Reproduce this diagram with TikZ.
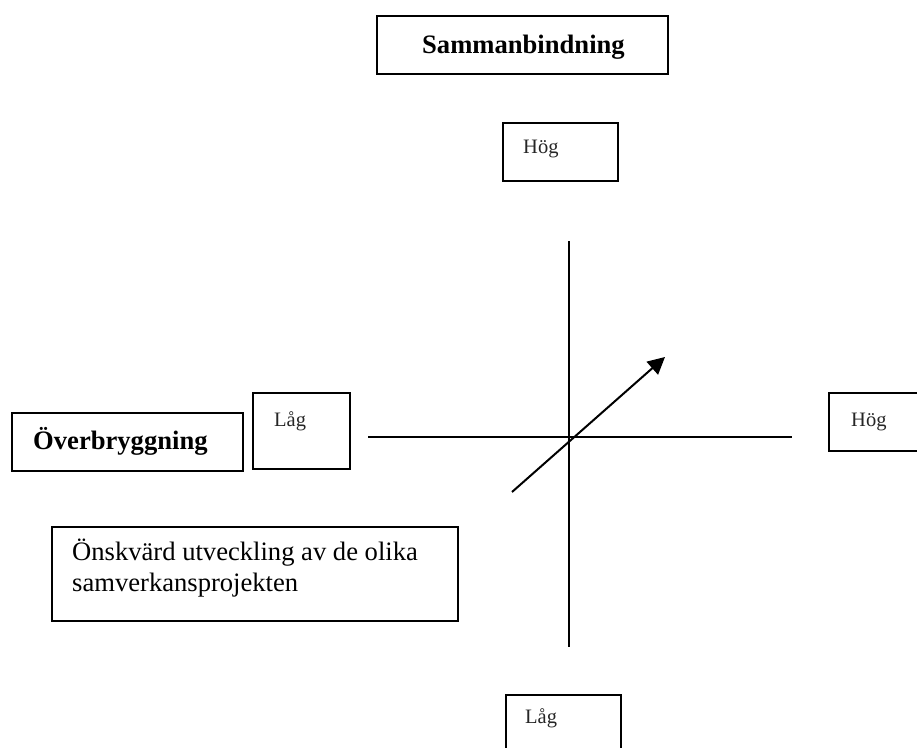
\documentclass[tikz,border=0pt]{standalone}
\usepackage{fontspec}
\setmainfont{Liberation Serif}
\usetikzlibrary{arrows.meta}
\tikzset{
  box/.style={draw, line width=1.6pt, rectangle, inner sep=0pt},
  bigtxt/.style={font=\fontsize{26.6}{30.6}\selectfont, inner sep=0pt, anchor=base west},
  boldtxt/.style={font=\fontsize{26.6}{30.6}\selectfont\bfseries, inner sep=0pt, anchor=base west},
  smalltxt/.style={font=\fontsize{20.5}{24}\selectfont, inner sep=0pt, anchor=base west, text=black!85},
  axis/.style={line width=2pt},
  haxis/.style={line width=2.8pt},
  dev/.style={line width=2pt, -{Triangle[length=17pt,width=17pt]}}
}
\begin{document}
\begin{tikzpicture}[x=1pt,y=-1pt]
\useasboundingbox (0,0) rectangle (917,747);
\clip (0,0) rectangle (917,747);
% boxes
\node[box, minimum width=291pt, minimum height=58pt] (samb) at (522.5,45) {};
\node[boldtxt] (sambt) at (422,53) {Sammanbindning};
\node[box, minimum width=115pt, minimum height=58pt] (hogtop) at (560.5,152) {};
\node[smalltxt] (hogtopt) at (523,153) {Hög};
\node[box, minimum width=231pt, minimum height=58pt] (overb) at (127.5,442) {};
\node[boldtxt] (overbt) at (33,449) {Överbryggning};
\node[box, minimum width=97pt, minimum height=76pt] (lagl) at (301.5,431) {};
\node[smalltxt] (laglt) at (274,426) {Låg};
\node[box, minimum width=120pt, minimum height=58pt] (hogr) at (889,422) {};
\node[smalltxt] (hogrt) at (851,426) {Hög};
\node[box, minimum width=406pt, minimum height=94pt] (onsk) at (255,574) {};
\node[bigtxt] (onskt1) at (72,560) {Önskvärd utveckling av de olika};
\node[bigtxt] (onskt2) at (72,591) {samverkansprojekten};
\node[box, minimum width=115pt, minimum height=70pt] (lagb) at (563.5,730) {};
\node[smalltxt] (lagbt) at (525,723) {Låg};
% axes
\coordinate (vt) at (569,241);
\coordinate (vb) at (569,647);
\coordinate (hl) at (368,437);
\coordinate (hr) at (792,437);
\coordinate (as) at (512,492);
\coordinate (ae) at (665,357);
\draw[axis] (vt) -- (vb);
\draw[haxis] (hl) -- (hr);
\draw[dev] (as) -- (ae);
\end{tikzpicture}
\end{document}
